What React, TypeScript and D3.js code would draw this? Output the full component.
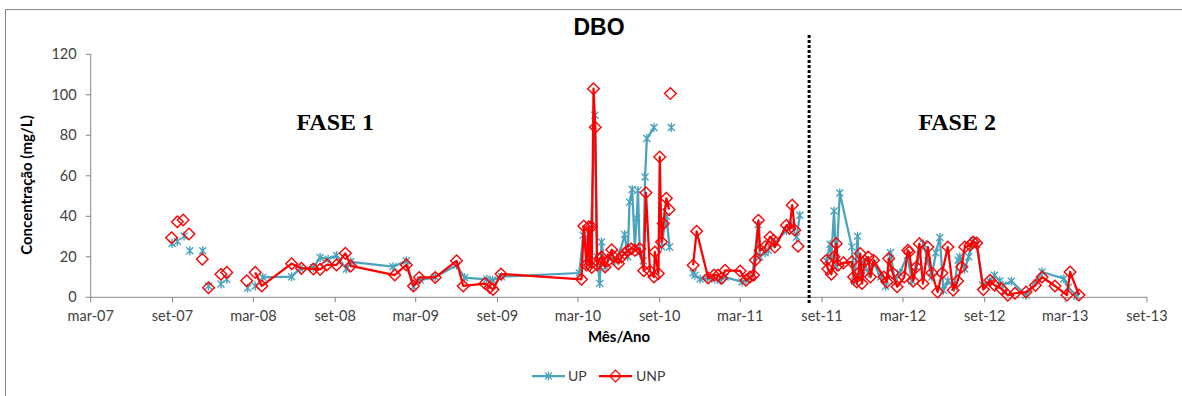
import React from "react";
import * as d3 from "d3";

type Pt = [string, number | null];
const G: Pt = ["", null];

const title = "DBO";
const yTitle = "Concentração (mg/L)";
const xTitle = "Mês/Ano";
const phaseLabels = ["FASE 1", "FASE 2"];
const phaseDates = ["2008-09-01", "2012-07-01"];
const phaseDivider = "2011-08-03";
const seriesNames = ["UP", "UNP"];
const xTickLabels = ["mar-07", "set-07", "mar-08", "set-08", "mar-09", "set-09", "mar-10", "set-10", "mar-11", "set-11", "mar-12", "set-12", "mar-13", "set-13"];
const yTicks = [0, 20, 40, 60, 80, 100, 120];

const upSeries: Pt[] = [
  ["2007-08-31", 26.6], G, ["2007-09-12", 27.5], G, ["2007-09-27", 30.3], G, ["2007-10-10", 23], G,
  ["2007-11-08", 23], G, ["2007-11-21", 5.6], G, ["2007-12-19", 6.6], G, ["2008-01-01", 8.9], G,
  ["2008-02-17", 4.6], G, ["2008-03-05", 5.6], G,
  ["2008-03-22", 9.9], ["2008-05-26", 10.2], ["2008-06-14", 14.3], ["2008-07-14", 14.7], ["2008-07-29", 19.7],
  ["2008-08-16", 18.8], ["2008-09-04", 20.7], ["2008-09-26", 14], ["2008-10-06", 17.5], ["2009-01-09", 15.1],
  ["2009-02-08", 18], ["2009-02-24", 5.2], ["2009-03-11", 8.5], ["2009-04-14", 10], ["2009-06-01", 15.8],
  ["2009-06-19", 9.7], ["2009-08-08", 8.9], ["2009-08-21", 8.5], ["2009-09-10", 10.2], ["2010-03-04", 12],
  ["2010-03-13", 30.6], ["2010-03-17", 29.5], ["2010-03-24", 16], ["2010-03-28", 18], ["2010-04-08", 89.9],
  ["2010-04-13", 20], ["2010-04-19", 6.8], ["2010-04-23", 27.3], ["2010-05-01", 15], ["2010-05-12", 20],
  ["2010-05-23", 18], ["2010-06-03", 22], ["2010-06-14", 31], ["2010-06-21", 20], ["2010-06-25", 47],
  ["2010-07-01", 53.2], ["2010-07-07", 24.8], ["2010-07-11", 38.9], ["2010-07-14", 52.8], ["2010-07-18", 22],
  ["2010-07-26", 18], ["2010-07-30", 59.4], ["2010-08-03", 78.4], ["2010-08-19", 83.8], G,
  ["2010-09-05", 25], ["2010-09-12", 35.6], ["2010-09-16", 40], ["2010-09-23", 24.8], G, ["2010-09-27", 83.8], G,
  ["2010-11-15", 12], ["2010-11-19", 10.9], ["2010-12-01", 9], ["2010-12-18", 9.5], ["2011-01-03", 9],
  ["2011-01-15", 8.4], ["2011-01-26", 10], ["2011-03-05", 7.6], ["2011-03-14", 8.5], ["2011-03-28", 10],
  ["2011-04-10", 36], ["2011-04-14", 20], ["2011-04-26", 22], ["2011-05-03", 23.2], ["2011-05-11", 26],
  ["2011-05-18", 27], ["2011-06-13", 33], ["2011-06-23", 36], ["2011-07-06", 29.8], ["2011-07-13", 40.5], G,
  ["2011-09-11", 18], ["2011-09-19", 26.2], ["2011-09-22", 20], ["2011-09-28", 42.6], ["2011-10-03", 15],
  ["2011-10-11", 51.5], ["2011-11-07", 24.9], ["2011-11-13", 8], ["2011-11-20", 30.1], ["2011-11-24", 10],
  ["2011-12-03", 18], ["2011-12-14", 12], ["2011-12-26", 17], ["2012-01-11", 10], ["2012-01-22", 5.4],
  ["2012-02-02", 22], ["2012-02-12", 8], ["2012-02-23", 12], ["2012-03-11", 20.7], ["2012-03-21", 8],
  ["2012-03-30", 15], ["2012-04-16", 26.5], ["2012-04-26", 18], ["2012-05-05", 10], ["2012-05-14", 22],
  ["2012-05-23", 29.5], ["2012-05-31", 3.5], ["2012-06-10", 8], ["2012-06-24", 5], ["2012-07-03", 18.3],
  ["2012-07-07", 19.9], ["2012-07-18", 14], ["2012-07-27", 20], ["2012-08-06", 28.2], ["2012-08-14", 26],
  ["2012-08-27", 6], ["2012-09-12", 8], ["2012-09-23", 10.9], ["2012-10-05", 8], ["2012-10-12", 5.9],
  ["2012-10-31", 7.9], ["2012-12-03", 1], ["2013-01-08", 12.5], ["2013-02-26", 9.2], ["2013-03-08", 5],
  ["2013-03-27", 0.5],
];

const unpSeries: Pt[] = [
  ["2007-08-30", 29.4], G, ["2007-09-12", 37.3], G, ["2007-09-25", 38.2], G, ["2007-10-08", 31.3], G,
  ["2007-11-07", 18.8], G, ["2007-11-21", 4.7], G, ["2007-12-19", 11.4], G, ["2008-01-01", 12.3], G,
  ["2008-02-15", 8.2], G,
  ["2008-03-05", 12.3], ["2008-03-20", 5.6], ["2008-05-26", 16.6], ["2008-06-17", 14.3], ["2008-07-14", 14],
  ["2008-07-29", 13.8], ["2008-08-13", 16], ["2008-09-04", 16], ["2008-09-24", 21.7], ["2008-10-06", 15.5],
  ["2009-01-13", 11], ["2009-02-08", 16], ["2009-02-24", 5.6], ["2009-03-09", 9.8], ["2009-04-14", 9.8],
  ["2009-06-01", 18], ["2009-06-16", 5.6], ["2009-08-04", 6.8], ["2009-08-15", 4.9], ["2009-08-22", 3.9],
  ["2009-09-09", 11.5], ["2010-03-09", 8.9],
  ["2010-03-14", 35.2], ["2010-03-20", 16], ["2010-03-25", 34.8], ["2010-03-27", 15.8], ["2010-03-31", 34.8],
  ["2010-04-01", 14.7], ["2010-04-05", 103], ["2010-04-09", 84], ["2010-04-13", 16], ["2010-04-19", 19],
  ["2010-04-23", 19.9], ["2010-05-01", 15], ["2010-05-07", 18], ["2010-05-16", 23.5], ["2010-05-19", 20.3],
  ["2010-05-31", 16.6], ["2010-06-07", 19.9], ["2010-06-14", 21.7], ["2010-06-22", 23.2], ["2010-06-29", 24],
  ["2010-07-07", 23.2], ["2010-07-18", 24], ["2010-07-27", 13.1], ["2010-08-01", 51.6], ["2010-08-10", 13],
  ["2010-08-19", 10], ["2010-08-21", 22.4], ["2010-08-29", 11.7], ["2010-09-01", 69.3], ["2010-09-05", 27.3],
  ["2010-09-09", 36.4], ["2010-09-16", 48.9], ["2010-09-22", 43.3], G, ["2010-09-25", 100.6], G,
  ["2010-11-15", 15.8], ["2010-11-23", 32.6], ["2010-12-19", 9.5], ["2011-01-01", 11], ["2011-01-10", 10.9],
  ["2011-01-18", 9.4], ["2011-01-26", 13.3], ["2011-03-01", 13], ["2011-03-14", 8.4], ["2011-03-23", 10],
  ["2011-03-31", 10.9], ["2011-04-04", 18.3], ["2011-04-11", 38], ["2011-04-15", 23.2], ["2011-04-26", 25],
  ["2011-05-07", 29.8], ["2011-05-15", 28.2], ["2011-05-18", 24.8], ["2011-06-13", 35.6], ["2011-06-20", 34],
  ["2011-06-26", 45.5], ["2011-07-02", 33.1], G, ["2011-07-09", 25.2], G,
  ["2011-09-11", 18.3], ["2011-09-14", 14], ["2011-09-22", 11.4], ["2011-09-28", 20], ["2011-10-03", 26.5],
  ["2011-10-07", 15.8], ["2011-10-19", 17], ["2011-11-07", 17.5], ["2011-11-11", 10], ["2011-11-18", 7.6],
  ["2011-11-22", 12], ["2011-11-26", 21.6], ["2011-11-30", 6.8], ["2011-12-06", 18], ["2011-12-14", 19.9],
  ["2011-12-19", 10], ["2011-12-26", 18.3], ["2012-01-18", 10], ["2012-01-25", 7.6], ["2012-01-29", 19.1],
  ["2012-02-07", 12], ["2012-02-17", 5.2], ["2012-03-04", 10], ["2012-03-12", 23.2], ["2012-03-15", 22.4],
  ["2012-03-24", 8], ["2012-03-31", 15], ["2012-04-07", 26.5], ["2012-04-15", 6.8], ["2012-04-26", 24.8],
  ["2012-05-05", 12], ["2012-05-18", 2.6], ["2012-05-28", 12], ["2012-06-10", 24.8], ["2012-06-22", 3.5],
  ["2012-07-02", 8], ["2012-07-11", 15], ["2012-07-18", 24.8], ["2012-07-30", 25.7], ["2012-08-06", 27.3],
  ["2012-08-14", 26.8], ["2012-08-29", 3.8], ["2012-09-13", 8.4], ["2012-09-23", 6], ["2012-10-08", 4.3],
  ["2012-10-23", 1], ["2012-11-08", 2], ["2012-12-03", 2.6], ["2012-12-24", 5.9], ["2013-01-08", 10],
  ["2013-02-06", 5.6], ["2013-03-05", 1.1], ["2013-03-12", 12.5], ["2013-04-01", 1.1],
];

const parse = d3.timeParse("%Y-%m-%d");
const UP_COLOR = "#4AA3BC";
const UNP_COLOR = "#FF0000";
const AXIS_COLOR = "#868686";
const TEXT_COLOR = "#404040";
const FONT = "Lato, 'Open Sans', sans-serif";

type D = { date: Date | null; v: number | null };
const toD = (s: Pt[]): D[] => s.map(([d, v]) => ({ date: d ? parse(d) : null, v }));

const starPath = "M-3.5,-3.5L3.5,3.5M-3.5,3.5L3.5,-3.5M0,-4.5L0,4.5";
const diamondPath = "M0,-5.8L5.8,0L0,5.8L-5.8,0Z";

export default function App() {
  const W = 1182, H = 396;
  const x0 = 90.7, x1 = 1147, yTop = 54.3, yBot = 297.3;
  const start = parse("2007-03-01")!;
  const end = parse("2013-09-01")!;
  const x = d3.scaleTime().domain([start, end]).range([x0, x1]);
  const y = d3.scaleLinear().domain([0, 120]).range([yBot, yTop]);
  const tickDates = d3.timeMonth.range(start, d3.timeDay.offset(end, 1), 6);

  const up = toD(upSeries);
  const unp = toD(unpSeries);
  const line = d3
    .line<D>()
    .defined((d) => d.v != null && d.date != null)
    .x((d) => x(d.date as Date))
    .y((d) => y(d.v as number));

  const divX = x(parse(phaseDivider)!);

  const markers = (data: D[], path: string, color: string, fill: string) =>
    data
      .filter((d) => d.v != null && d.date != null)
      .map((d, i) => (
        <path key={i} d={path} transform={`translate(${x(d.date as Date)},${y(d.v as number)})`}
          stroke={color} strokeWidth={1.4} fill={fill} />
      ));

  const legY = 376;
  const legItems = [
    { name: seriesNames[0], color: UP_COLOR, path: starPath, lx: 532, tx: 568 },
    { name: seriesNames[1], color: UNP_COLOR, path: diamondPath, lx: 599, tx: 636 },
  ];

  return (
    <svg width={W} height={H} style={{ position: "absolute", left: 0, top: 0, background: "#fff" }}>
      <rect x={5.5} y={9.5} width={1200} height={420} fill="#fff" stroke={AXIS_COLOR} strokeWidth={1} />
      <text x={599} y={35} textAnchor="middle" fontFamily="'Liberation Sans', Arial, sans-serif" fontWeight="bold" fontSize={23} fill="#000">{title}</text>

      {/* axes */}
      <line x1={x0} x2={x0} y1={yTop} y2={yBot} stroke={AXIS_COLOR} />
      <line x1={x0} x2={x1} y1={yBot} y2={yBot} stroke={AXIS_COLOR} />
      {yTicks.map((t) => (
        <g key={t}>
          <line x1={x0 - 5} x2={x0} y1={y(t)} y2={y(t)} stroke={AXIS_COLOR} />
          <text x={x0 - 14} y={y(t) + 5} textAnchor="end" fontFamily={FONT} fontSize={14.5} fill={TEXT_COLOR}>{t}</text>
        </g>
      ))}
      {tickDates.map((d, i) => (
        <g key={i}>
          <line x1={x(d)} x2={x(d)} y1={yBot} y2={yBot + 5} stroke={AXIS_COLOR} />
          <text x={x(d)} y={yBot + 24} textAnchor="middle" fontFamily={FONT} fontSize={14.5} fill={TEXT_COLOR}>{xTickLabels[i]}</text>
        </g>
      ))}
      <text transform={`translate(32,185) rotate(-90)`} textAnchor="middle" fontFamily={FONT} fontWeight="bold" fontSize={15} fill="#000">{yTitle}</text>
      <text x={619} y={342} textAnchor="middle" fontFamily={FONT} fontWeight="bold" fontSize={15} fill="#000">{xTitle}</text>

      {/* phase labels */}
      {phaseLabels.map((p, i) => (
        <text key={p} x={x(parse(phaseDates[i])!)} y={130} textAnchor="middle" fontFamily="'Liberation Serif', 'Times New Roman', serif" fontWeight="bold" fontSize={24} fill="#000">{p}</text>
      ))}

      {/* series */}
      <path d={line(up) || ""} fill="none" stroke={UP_COLOR} strokeWidth={2.25} strokeLinejoin="round" />
      {markers(up, starPath, UP_COLOR, "none")}
      <path d={line(unp) || ""} fill="none" stroke={UNP_COLOR} strokeWidth={2.25} strokeLinejoin="round" />
      {markers(unp, diamondPath, UNP_COLOR, "none")}

      {/* divider */}
      <line x1={divX} x2={divX} y1={35} y2={304} stroke="#000" strokeWidth={3} strokeDasharray="3,2" />

      {/* legend */}
      {legItems.map((l) => (
        <g key={l.name}>
          <line x1={l.lx} x2={l.lx + 33} y1={legY} y2={legY} stroke={l.color} strokeWidth={2.25} />
          <path d={l.path} transform={`translate(${l.lx + 16.5},${legY})`} stroke={l.color} strokeWidth={1.2} fill="none" />
          <text x={l.tx} y={legY + 5} fontFamily={FONT} fontSize={14} fill={TEXT_COLOR}>{l.name}</text>
        </g>
      ))}
    </svg>
  );
}
